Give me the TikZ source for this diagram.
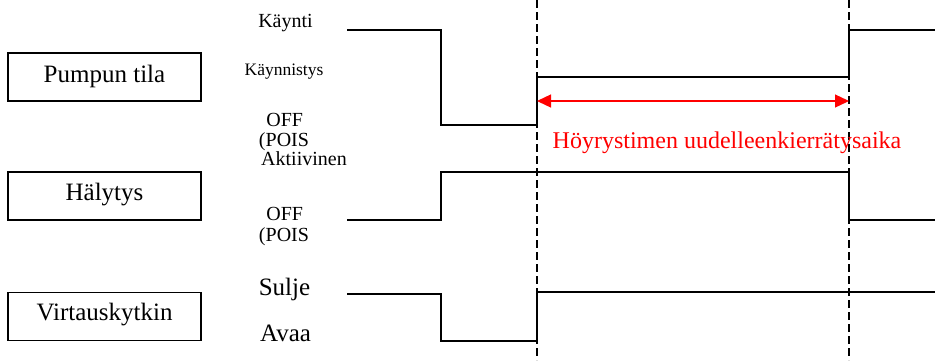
\documentclass[tikz,border=0pt]{standalone}
\usepackage{fontspec}
\setmainfont{Liberation Serif}
\usetikzlibrary{arrows.meta}
\tikzset{
  boxlbl/.style={draw, line width=1.4pt, minimum width=193pt, minimum height=48pt, inner sep=0pt, font=\fontsize{25}{27}\selectfont},
  lvl/.style={anchor=base, inner sep=0pt, font=\fontsize{20}{22}\selectfont},
  lvlbig/.style={anchor=base, inner sep=0pt, font=\fontsize{25}{27}\selectfont},
  sig/.style={line width=1.5pt, line join=miter},
  guide/.style={line width=1.2pt, dash pattern=on 8pt off 4pt},
  span/.style={red, line width=1.3pt, {Triangle[length=14pt,width=13pt]}-{Triangle[length=14pt,width=13pt]}},
}
\begin{document}
\begin{tikzpicture}[x=1pt,y=-1pt]
\useasboundingbox (0,0) rectangle (935,360);
% boxes
\node[boxlbl] (pump) at (104.5,77) {};
\node[anchor=base, inner sep=0pt, font=\fontsize{25}{27}\selectfont] (pumptxt) at (104.5,82) {Pumpun tila};
\node[boxlbl] (alarm) at (104.5,196) {};
\node[anchor=base, inner sep=0pt, font=\fontsize{25}{27}\selectfont] (alarmtxt) at (104.5,200) {Hälytys};
\node[boxlbl] (flow) at (104.5,316.5) {};
\node[anchor=base, inner sep=0pt, font=\fontsize{25}{27}\selectfont] (flowtxt) at (104.5,320) {Virtauskytkin};
% level labels
\node[lvl, font=\fontsize{20}{22}\selectfont] (run) at (285.5,27) {Käynti};
\node[lvl, font=\fontsize{17.5}{20}\selectfont] (start) at (284,75) {Käynnistys};
\node[lvl] (off1) at (284.7,126.7) {OFF};
\node[lvl] (pois1) at (284,146.7) {(POIS};
\node[lvl] (act) at (304,165) {Aktiivinen};
\node[lvl] (off2) at (284.7,220) {OFF};
\node[lvl] (pois2) at (284,241.5) {(POIS};
\node[lvlbig] (close) at (284.5,295) {Sulje};
\node[lvlbig] (open) at (285.5,341.5) {Avaa};
% guide lines
\coordinate (g1t) at (537,0);
\coordinate (g1b) at (537,360);
\coordinate (g2t) at (849,0);
\coordinate (g2b) at (849,360);
\draw[guide] (g1t) -- (g1b);
\draw[guide] (g2t) -- (g2b);
% signals
\draw[sig] (347,30) -- (441,30) -- (441,125) -- (537,125) -- (537,77) -- (849,77) -- (849,30) -- (935,30);
\draw[sig] (347,220) -- (441,220) -- (441,172) -- (849,172) -- (849,220) -- (935,220);
\draw[sig] (347,294) -- (441,294) -- (441,341) -- (537,341) -- (537,292) -- (935,292);
% span arrow
\coordinate (a1) at (537,101);
\coordinate (a2) at (849,101);
\draw[span] (a1) -- (a2);
\node[anchor=base, inner sep=0pt, red, font=\fontsize{24}{26}\selectfont] (spantxt) at (727,148) {Höyrystimen uudelleenkierrätysaika};
\end{tikzpicture}
\end{document}
